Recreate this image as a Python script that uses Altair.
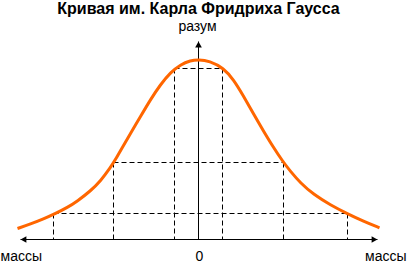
import altair as alt
import pandas as pd

# Gauss curve: offset from the centre, height above the axis
curve_x = [-181, -168, -155, -143, -131, -121, -108, -98, -88, -83, -78, -68, -58, -48, -38, -28, -18, -8, 0,
           11, 25, 35, 45, 55, 65, 75, 84, 92, 102, 115, 132, 149, 165, 181]
curve_h = [11, 15.5, 20.5, 26, 32, 38.5, 48.5, 58.5, 72, 80, 89, 106, 123, 140, 155, 167, 175, 179, 180,
           178.5, 171.5, 160, 143.5, 125.5, 108.5, 92, 78.5, 68, 56.5, 45, 34.5, 25.7, 18.3, 11.7]

# dashed guide lines
hline_x1 = [-24, -85, -145]
hline_x2 = [24, 85, 149]
hline_h = [171, 77, 26]
vline_x = [-145, -85, -24, 24, 85, 149]
vline_top = [26, 77, 171, 171, 77, 26]

# axes
axis_left, axis_right, axis_top = -178, 179, 198
arrow_x = [-175, 176, 0]
arrow_h = [0, 0, 195]
arrow_shape = ["triangle-left", "triangle-right", "triangle-up"]

# labels
title_text = "Кривая им. Карла Фридриха Гаусса"
label_text = ["разум", "массы", "массы", "0"]
label_x = [-1, -198, 208, 1]
label_h = [208.5, -21.5, -21.5, -21.5]
label_align = ["center", "left", "right", "center"]

W, H = 407, 263
xs = alt.Scale(domain=[-198.5, 208.5], range=[0, W], nice=False, zero=False)
ys = alt.Scale(domain=[-23.5, 239.5], range=[H, 0], nice=False, zero=False)

curve_df = pd.DataFrame({"x": curve_x, "h": curve_h})
hl_df = pd.DataFrame({"x1": hline_x1, "x2": hline_x2, "h": hline_h})
vl_df = pd.DataFrame({"x": vline_x, "top": vline_top, "bot": [0] * len(vline_x)})
ax_df = pd.DataFrame({"x1": [axis_left, 0], "x2": [axis_right, 0], "h1": [0, 0], "h2": [0, axis_top]})
ar_df = pd.DataFrame({"x": arrow_x, "h": arrow_h, "s": arrow_shape})
lab_df = pd.DataFrame({"t": label_text, "x": label_x, "h": label_h, "a": label_align})
tit_df = pd.DataFrame({"t": [title_text], "x": [0], "h": [226]})

X = lambda f: alt.X(f, scale=xs, axis=None)
Y = lambda f: alt.Y(f, scale=ys, axis=None)

hlines = alt.Chart(hl_df).mark_rule(color="black", strokeWidth=1, strokeDash=[5, 3]).encode(
    x=X("x1:Q"), x2="x2:Q", y=Y("h:Q"))
vlines = alt.Chart(vl_df).mark_rule(color="black", strokeWidth=1, strokeDash=[5, 3]).encode(
    x=X("x:Q"), y=Y("top:Q"), y2="bot:Q")
axes = alt.Chart(ax_df).mark_rule(color="black", strokeWidth=1).encode(
    x=X("x1:Q"), x2="x2:Q", y=Y("h1:Q"), y2="h2:Q")
arrows = alt.Chart(ar_df).mark_point(filled=True, color="black", opacity=1, size=45).encode(
    x=X("x:Q"), y=Y("h:Q"), shape=alt.Shape("s:N", scale=None, legend=None))
curve = alt.Chart(curve_df).mark_line(color="#FF6600", strokeWidth=3, interpolate="basis").encode(
    x=X("x:Q"), y=Y("h:Q"), order="x:Q")

layers = [hlines, vlines, axes, arrows, curve]
for al in ["center", "left", "right"]:
    layers.append(alt.Chart(lab_df[lab_df.a == al]).mark_text(
        font="Liberation Sans", fontSize=14, color="black", align=al, baseline="alphabetic").encode(
        x=X("x:Q"), y=Y("h:Q"), text="t:N"))
layers.append(alt.Chart(tit_df).mark_text(
    font="Liberation Sans", fontSize=16, fontWeight="bold", color="black", align="center",
    baseline="alphabetic").encode(x=X("x:Q"), y=Y("h:Q"), text="t:N"))

chart = alt.layer(*layers).properties(
    width=W, height=H, padding=0, autosize=alt.AutoSizeParams(type="none"),
    background="white"
).configure_view(stroke=None)

chart.save("out.html", embed_options={"renderer": "svg", "actions": False})
